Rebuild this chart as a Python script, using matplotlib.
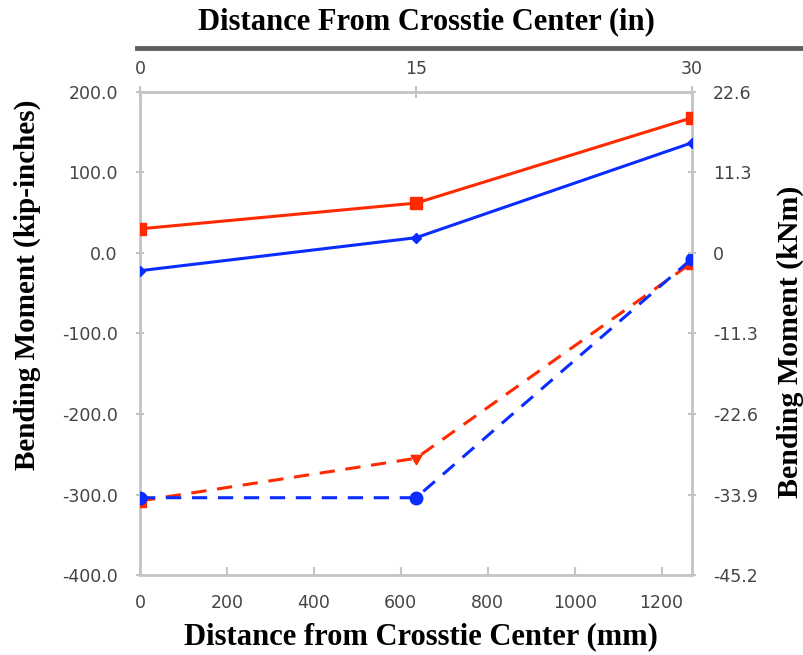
import matplotlib.pyplot as plt
from matplotlib.lines import Line2D

# distance from crosstie center (mm)
dist_mm = [0, 635, 1270]
top_ticks_mm = [0, 635, 1270]
top_labels = ['0', '15', '30']

# bending moment (kip-in)
red_solid = [30, 62, 168]
blue_solid = [-22, 19, 137]
red_dash = [-308, -255, -12]
blue_dash = [-304, -304, -7]

y_ticks = [200, 100, 0, -100, -200, -300, -400]
right_labels = ['22.6', '11.3', '0', '-11.3', '-22.6', '-33.9', '-45.2']
x_ticks = [0, 200, 400, 600, 800, 1000, 1200]

gray = '#c4c4c4'
tcol = '#444444'
red = '#ff2a00'
blue = '#0a2cff'

fig = plt.figure(figsize=(8.04, 6.55), dpi=100)
ax = fig.add_axes([140/804, 1-575/655, (692-140)/804, (575-92)/655])

ax.plot(dist_mm, red_solid, color=red, lw=2.2, marker='s', ms=8, zorder=3)
ax.plot(dist_mm, blue_solid, color=blue, lw=2.2, marker='D', ms=5, zorder=3)
ax.plot(dist_mm, red_dash, color=red, lw=2.2, ls=(0, (5, 3.5)), zorder=3)
ax.plot(dist_mm[::2], red_dash[::2], color=red, ls='none', marker='s', ms=8, zorder=3)
ax.plot(dist_mm[1], red_dash[1], color=red, marker=(3, 0, 60), ms=9, zorder=3)
ax.plot(dist_mm, blue_dash, color=blue, lw=2.2, ls=(0, (5, 3.5)), marker='o', ms=9, zorder=4)

ax.set_xlim(0, 1270)
ax.set_ylim(-400, 200)
ax.set_xticks(x_ticks)
ax.set_yticks(y_ticks)
ax.set_yticklabels([f'{v:.1f}' for v in y_ticks])

for s in ax.spines.values():
    s.set_color(gray)
    s.set_linewidth(2)
ax.tick_params(colors=tcol, labelsize=12.5, length=6, width=1.5, color=gray, direction='inout', pad=13)
ax.tick_params(axis='x', direction='in', pad=14)

ax2 = ax.twinx()
ax2.set_ylim(ax.get_ylim())
ax2.set_yticks(y_ticks)
ax2.set_yticklabels(right_labels)
ax2.tick_params(colors=tcol, labelsize=12.5, length=6, width=1.5, color=gray, direction='inout', pad=12)
for s in ax2.spines.values():
    s.set_visible(False)

ax3 = ax.twiny()
ax3.set_xlim(ax.get_xlim())
ax3.set_xticks(top_ticks_mm)
ax3.set_xticklabels(top_labels)
ax3.tick_params(colors=tcol, labelsize=12.5, length=8, width=1.5, color=gray, direction='inout', pad=6)
for s in ax3.spines.values():
    s.set_visible(False)

lab = dict(family='Liberation Serif', fontweight='bold', color='black',
           ha='center', va='center')
fig.text(421/804, 1-637/655, 'Distance from Crosstie Center (mm)', fontsize=22, **lab)
fig.text(27/804, 1-285/655, 'Bending Moment (kip-inches)', rotation=90, fontsize=21, **lab)
fig.text(790/804, 1-342/655, 'Bending Moment (kNm)', rotation=90, fontsize=21.5, **lab)
fig.text(426/804, 1-22/655, 'Distance From Crosstie Center (in)', fontsize=22, **lab)

fig.add_artist(Line2D([137/804, 1.0], [1-48/655, 1-48/655], color='#606060', lw=3.5, transform=fig.transFigure))

fig.savefig('out.png', dpi=100)
